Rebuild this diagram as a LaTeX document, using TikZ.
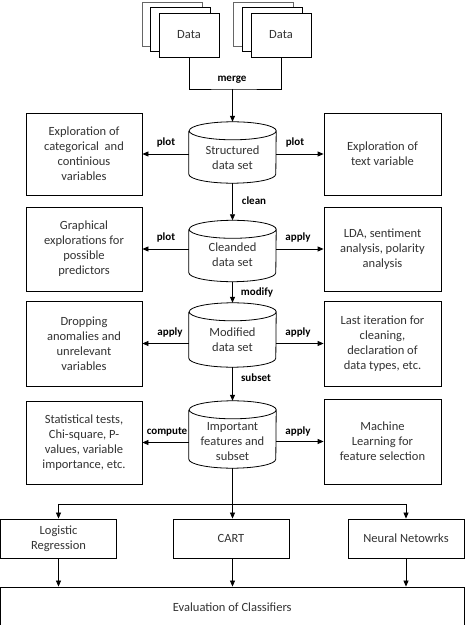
\documentclass[tikz,border=0pt]{standalone}
\usepackage{fontspec}
\setmainfont{Carlito}
\usetikzlibrary{arrows.meta,calc}
\newcommand\cylshape[2]{%
  \draw[ln,fill=white] ($(#1.north west)+(0,-#2)$) -- ($(#1.south west)+(0,#2)$)
    arc[start angle=180,end angle=360,x radius=43.5,y radius=#2]
    -- ($(#1.north east)+(0,-#2)$)
    arc[start angle=0,end angle=360,x radius=43.5,y radius=#2];}
\begin{document}
\begin{tikzpicture}[x=1pt,y=1pt,
  ln/.style={line width=0.8pt},
  box/.style={draw=black, line width=0.8pt, fill=white, align=center, text=black!80,
    font=\fontsize{12.5}{15}\selectfont, inner sep=0pt},
  cyl/.style={inner sep=0pt, minimum width=87pt},
  ctext/.style={align=center, text=black!80, font=\fontsize{12.5}{15}\selectfont, inner sep=0pt},
  lbl/.style={font=\fontsize{11}{13}\selectfont\bfseries, text=black, inner sep=0pt},
  arr/.style={-{Triangle[length=6pt,width=5pt]}, line width=0.8pt},
  sheet/.style={draw=black, line width=0.8pt, fill=white, minimum width=60pt, minimum height=44pt,
    inner sep=0pt, text=black!80, font=\fontsize{12.5}{15}\selectfont},
  backsheet/.style={sheet, draw=black!60, line width=0.6pt}
]
\useasboundingbox (0,0) rectangle (469,625);

% data stacks
\node[backsheet] (d1b) at (172,601) {};
\node[sheet] (d1m) at (180,596) {};
\node[sheet] (d1f) at (189,590) {Data};
\node[backsheet] (d2b) at (263,601) {};
\node[sheet] (d2m) at (272,596) {};
\node[sheet] (d2f) at (281,590) {Data};
\coordinate (m) at (232.5,536);
\draw[ln] (d1f.south) |- (m) -| (d2f.south);
\node[lbl] (lmerge) at (232,545) {merge};

% cylinders
\node[cyl, minimum height=61pt] (c1) at (232.5,472.5) {};
\node[cyl, minimum height=61pt] (c2) at (232.5,374) {};
\node[cyl, minimum height=64pt] (c3) at (232.5,290) {};
\node[cyl, minimum height=67pt] (c4) at (232.5,190.5) {};
\cylshape{c1}{9}
\cylshape{c2}{9}
\cylshape{c3}{9}
\cylshape{c4}{9}
\node[ctext] (t1) at (232.5,467.5) {Structured\\data set};
\node[ctext] (t2) at (232.5,370.5) {Cleanded\\data set};
\node[ctext] (t3) at (232.5,285.5) {Modified\\data set};
\node[ctext] (t4) at (232.5,183) {Important\\features and\\subset};

% side boxes
\node[box, minimum width=116pt, minimum height=82pt] (b1L) at (84,471) {Exploration of\\categorical\ \ and\\continious\\variables};
\node[box, minimum width=117pt, minimum height=82pt] (b1R) at (382.5,471) {Exploration of\\text variable};
\node[box, minimum width=116pt, minimum height=84pt] (b2L) at (84,376) {Graphical\\explorations for\\possible\\predictors};
\node[box, minimum width=117pt, minimum height=84pt] (b2R) at (382.5,376) {LDA, sentiment\\analysis, polarity\\analysis};
\node[box, minimum width=116pt, minimum height=85pt] (b3L) at (84,281.5) {Dropping\\anomalies and\\unrelevant\\variables};
\node[box, minimum width=117pt, minimum height=85pt] (b3R) at (382.5,281.5) {Last iteration for\\cleaning,\\declaration of\\data types, etc.};
\node[box, minimum width=116pt, minimum height=83pt] (b4L) at (84,182.5) {Statistical tests,\\Chi-square, P-\\values, variable\\importance, etc.};
\node[box, minimum width=117pt, minimum height=85pt] (b4R) at (382.5,183.5) {Machine\\Learning for\\feature selection};

% horizontal arrows
\draw[arr] (c1.west |- b1L.east) -- (b1L.east);
\draw[arr] (c1.east |- b1R.west) -- (b1R.west);
\draw[arr] (c2.west |- b2L.east) -- (b2L.east);
\draw[arr] (c2.east |- b2R.west) -- (b2R.west);
\draw[arr] (c3.west |- b3L.east) -- (b3L.east);
\draw[arr] (c3.east |- b3R.west) -- (b3R.west);
\draw[arr] (c4.west |- b4L.east) -- (b4L.east);
\draw[arr] (c4.east |- b4R.west) -- (b4R.west);

% vertical arrows
\draw[arr] (m) -- (c1.north);
\draw[arr] (c1.south) -- (c2.north);
\draw[arr] (c2.south) -- (c3.north);
\draw[arr] (c3.south) -- (c4.north);

% labels
\node[lbl] (l1a) at (166,482) {plot};
\node[lbl] (l1b) at (295,482) {plot};
\node[lbl] (l2a) at (166,387) {plot};
\node[lbl] (l2b) at (298,387) {apply};
\node[lbl] (l3a) at (170,292) {apply};
\node[lbl] (l3b) at (298,292) {apply};
\node[lbl] (l4a) at (167,193) {compute};
\node[lbl] (l4b) at (298,193) {apply};
\node[lbl] (lclean) at (254,424) {clean};
\node[lbl] (lmod) at (257,332) {modify};
\node[lbl] (lsub) at (256,247) {subset};

% classifiers
\node[box, minimum width=116pt, minimum height=39pt] (lr) at (58.5,86.5) {Logistic\\Regression};
\node[box, minimum width=116pt, minimum height=39pt] (cart) at (231,86.5) {CART};
\node[box, minimum width=116pt, minimum height=39pt] (nn) at (406,86.5) {Neural Netowrks};
\coordinate (s) at (232.5,121);
\draw[ln] (c4.south) -- (s);
\draw[ln] (lr.north |- s) -- (nn.north |- s);
\draw[arr] (lr.north |- s) -- (lr.north);
\draw[arr] (s) -- (cart.north -| s);
\draw[arr] (nn.north |- s) -- (nn.north);

\node[box, minimum width=463.5pt, minimum height=40pt] (ev) at (232.25,18) {Evaluation of Classifiers};
\draw[arr] (lr.south) -- (lr.south |- ev.north);
\draw[arr] (cart.south -| s) -- (s |- ev.north);
\draw[arr] (nn.south) -- (nn.south |- ev.north);
\end{tikzpicture}
\end{document}
